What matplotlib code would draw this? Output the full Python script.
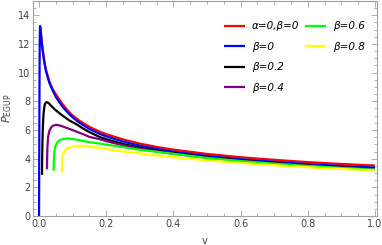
import matplotlib
matplotlib.use("Agg")
import matplotlib.pyplot as plt
from matplotlib.ticker import MultipleLocator

# ---- data ----
v_red = [0.0031, 0.0045, 0.006, 0.0075, 0.011, 0.0158, 0.0207, 0.0305, 0.0405,
         0.05, 0.07, 0.09, 0.1, 0.12, 0.15, 0.18, 0.2, 0.25, 0.3, 0.35, 0.4, 0.5, 0.6, 0.7, 0.8, 0.9, 1.0]
p_red = [13.2, 13.05, 12.7, 12.3, 11.6, 10.8, 10.2, 9.4, 8.85,
         8.5, 7.8, 7.24, 7.02, 6.65, 6.22, 5.89, 5.71, 5.34, 5.05, 4.82, 4.63, 4.33, 4.10, 3.92, 3.76, 3.63, 3.52]

v_blue = [0.0, 0.0008, 0.0015, 0.0022, 0.003, 0.0036, 0.0045, 0.006, 0.0075, 0.011, 0.0158, 0.0207, 0.0305, 0.0405,
          0.05, 0.07, 0.09, 0.1, 0.12, 0.15, 0.18, 0.2, 0.25, 0.3, 0.35, 0.4, 0.5, 0.6, 0.7, 0.8, 0.9, 1.0]
p_blue = [0.0, 5.5, 10.0, 12.6, 13.25, 13.2, 12.95, 12.6, 12.2, 11.5, 10.7, 10.1, 9.3, 8.75,
          8.3, 7.62, 7.1, 6.88, 6.51, 6.07, 5.73, 5.56, 5.19, 4.91, 4.68, 4.49, 4.19, 3.96, 3.78, 3.62, 3.49, 3.38]

v_b02 = [0.0089, 0.0092, 0.0098, 0.0105, 0.0115, 0.013, 0.0145, 0.0165, 0.019, 0.0228, 0.027, 0.0305, 0.04,
         0.05, 0.07, 0.09, 0.11, 0.13, 0.15, 0.18, 0.2, 0.25, 0.3, 0.35, 0.4, 0.5, 0.6, 0.7, 0.8, 0.9, 1.0]
p_b02 = [2.87, 3.9, 4.8, 5.6, 6.3, 7.0, 7.4, 7.7, 7.88, 7.95, 7.9, 7.83, 7.6,
         7.37, 7.0, 6.67, 6.42, 6.12, 5.85, 5.52, 5.36, 5.02, 4.77, 4.56, 4.39, 4.10, 3.88, 3.70, 3.54, 3.41, 3.30]

v_b04 = [0.0237, 0.0241, 0.0248, 0.0257, 0.0268, 0.028, 0.0305, 0.035, 0.0405, 0.05, 0.06, 0.07,
         0.09, 0.11, 0.13, 0.15, 0.18, 0.2, 0.25, 0.3, 0.35, 0.4, 0.5, 0.6, 0.7, 0.8, 0.9, 1.0]
p_b04 = [3.26, 4.1, 4.7, 5.1, 5.45, 5.65, 5.92, 6.15, 6.29, 6.36, 6.33, 6.25,
         6.08, 5.9, 5.72, 5.52, 5.36, 5.22, 4.93, 4.70, 4.50, 4.34, 4.06, 3.85, 3.67, 3.51, 3.38, 3.27]

v_b06 = [0.0434, 0.0438, 0.0445, 0.0453, 0.0465, 0.048, 0.05, 0.055, 0.06, 0.07, 0.08, 0.09,
         0.11, 0.13, 0.15, 0.18, 0.2, 0.25, 0.3, 0.35, 0.4, 0.5, 0.6, 0.7, 0.8, 0.9, 1.0]
p_b06 = [3.15, 3.75, 4.1, 4.38, 4.62, 4.82, 4.96, 5.15, 5.27, 5.36, 5.40, 5.40,
         5.33, 5.24, 5.15, 5.06, 4.98, 4.80, 4.62, 4.48, 4.34, 4.05, 3.83, 3.65, 3.49, 3.35, 3.23]

v_b08 = [0.068, 0.0684, 0.0692, 0.0705, 0.072, 0.075, 0.08, 0.085, 0.1, 0.12, 0.14,
         0.18, 0.2, 0.25, 0.3, 0.35, 0.4, 0.5, 0.6, 0.7, 0.8, 0.9, 1.0]
p_b08 = [3.03, 3.55, 3.95, 4.2, 4.35, 4.5, 4.65, 4.73, 4.85, 4.9, 4.87,
         4.75, 4.68, 4.50, 4.36, 4.22, 4.10, 3.88, 3.70, 3.54, 3.40, 3.28, 3.17]

labels = ["α=0,β=0", "β=0", "β=0.2", "β=0.4", "β=0.6", "β=0.8"]
colors = ["#ff0000", "#0000ff", "#000000", "#800080", "#00ff00", "#ffff00"]
x_ticks = [0.0, 0.2, 0.4, 0.6, 0.8, 1.0]
y_ticks = [0, 2, 4, 6, 8, 10, 12, 14]

fig = plt.figure(figsize=(3.82, 2.45), dpi=100)
ax = fig.add_axes([33/382, 1-216/245, 344/382, 215/245])

series = [(v_red, p_red), (v_blue, p_blue), (v_b02, p_b02), (v_b04, p_b04), (v_b06, p_b06), (v_b08, p_b08)]
handles = []
for (vv, pp), c, lab in zip(series, colors, labels):
    h, = ax.plot(vv, pp, color=c, lw=1.6, label=lab, solid_capstyle="butt", clip_on=True)
    handles.append(h)

ax.set_xlim(-0.018, 1.006)
ax.set_ylim(0, 15)
ax.set_xticks(x_ticks)
ax.set_xticklabels([f"{t:.1f}" for t in x_ticks])
ax.set_yticks(y_ticks)
ax.set_yticklabels([str(t) for t in y_ticks])
ax.xaxis.set_minor_locator(MultipleLocator(0.05))
ax.yaxis.set_minor_locator(MultipleLocator(0.5))

frame_c = "#a0a0a0"
for s in ax.spines.values():
    s.set_color(frame_c)
    s.set_linewidth(0.8)
ax.tick_params(which="both", direction="in", top=True, right=True, color=frame_c,
               labelsize=7, labelcolor="#444444", width=0.6)
ax.tick_params(which="major", length=4, pad=2)
ax.tick_params(which="minor", length=2)

ax.set_xlabel("v", fontsize=7, color="#444444", labelpad=5)
ax.set_ylabel(r"$P_{\mathrm{EGUP}}$", fontsize=8, color="#444444", labelpad=3)

common = dict(frameon=False, fontsize=7.5, handlelength=2.0, handletextpad=0.65,
              labelspacing=1.0, borderpad=0, borderaxespad=0, loc="upper left")
leg1 = ax.legend(handles[:4], labels[:4], bbox_to_anchor=(0.555, 0.905), **common)
for t in leg1.get_texts():
    t.set_fontstyle("italic")
ax.add_artist(leg1)
leg2 = ax.legend(handles[4:], labels[4:], bbox_to_anchor=(0.791, 0.905), **common)
for t in leg2.get_texts():
    t.set_fontstyle("italic")

fig.savefig("out.png", dpi=100)
